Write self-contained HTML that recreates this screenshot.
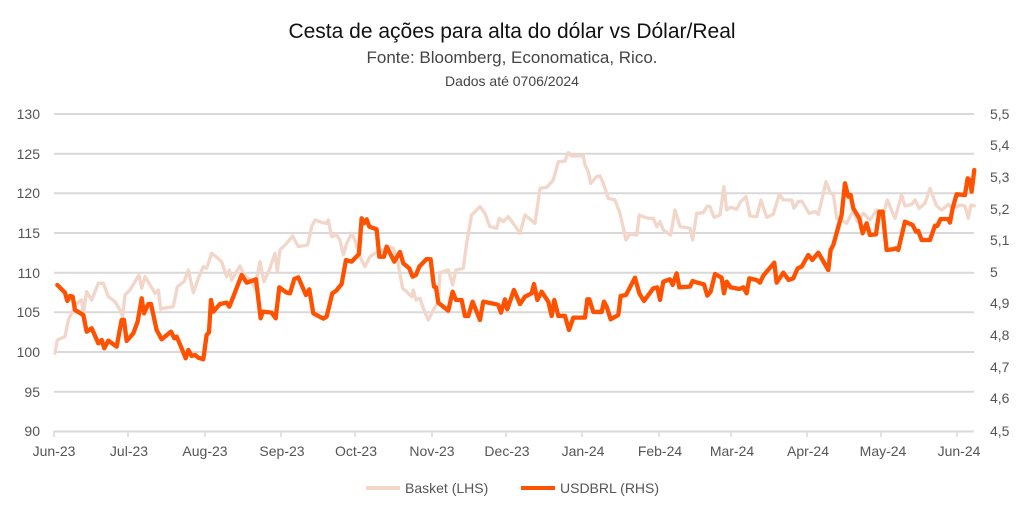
<!DOCTYPE html>
<html><head><meta charset="utf-8"><style>
body{margin:0;background:#fff;}
svg{display:block;font-family:"Liberation Sans",sans-serif;}
</style></head><body>
<svg width="1023" height="514" viewBox="0 0 1023 514">
<text x="512" y="38" text-anchor="middle" font-size="21" fill="#111">Cesta de ações para alta do dólar vs Dólar/Real</text>
<text x="512" y="63" text-anchor="middle" font-size="17" fill="#444">Fonte: Bloomberg, Economatica, Rico.</text>
<text x="512" y="86" text-anchor="middle" font-size="14" fill="#444">Dados até 0706/2024</text>
<g stroke="#d9d9d9" stroke-width="2">
<line x1="54" x2="974" y1="114" y2="114"/><line x1="54" x2="974" y1="153.7" y2="153.7"/>
<line x1="54" x2="974" y1="193.3" y2="193.3"/><line x1="54" x2="974" y1="233" y2="233"/>
<line x1="54" x2="974" y1="272.7" y2="272.7"/><line x1="54" x2="974" y1="312.3" y2="312.3"/>
<line x1="54" x2="974" y1="352" y2="352"/><line x1="54" x2="974" y1="391.7" y2="391.7"/>
<line x1="54" x2="974" y1="431.5" y2="431.5"/>
<g stroke-width="1.5"><line x1="54" x2="54" y1="431" y2="437"/><line x1="128" x2="128" y1="431" y2="437"/><line x1="205" x2="205" y1="431" y2="437"/><line x1="281" x2="281" y1="431" y2="437"/><line x1="355" x2="355" y1="431" y2="437"/><line x1="432" x2="432" y1="431" y2="437"/><line x1="506" x2="506" y1="431" y2="437"/><line x1="582" x2="582" y1="431" y2="437"/><line x1="659" x2="659" y1="431" y2="437"/><line x1="731" x2="731" y1="431" y2="437"/><line x1="807" x2="807" y1="431" y2="437"/><line x1="881" x2="881" y1="431" y2="437"/><line x1="957" x2="957" y1="431" y2="437"/></g>
</g>
<g font-size="14" fill="#555" text-anchor="end">
<text x="40" y="119">130</text><text x="40" y="159">125</text><text x="40" y="198">120</text><text x="40" y="238">115</text><text x="40" y="278">110</text><text x="40" y="317">105</text><text x="40" y="357">100</text><text x="40" y="397">95</text><text x="40" y="436">90</text>
</g>
<g font-size="14" fill="#555">
<text x="990" y="119">5,5</text><text x="990" y="150">5,4</text><text x="990" y="182">5,3</text><text x="990" y="214">5,2</text><text x="990" y="245">5,1</text><text x="990" y="277">5</text><text x="990" y="308">4,9</text><text x="990" y="340">4,8</text><text x="990" y="372">4,7</text><text x="990" y="403">4,6</text><text x="990" y="436">4,5</text>
</g>
<g font-size="14" fill="#555" text-anchor="middle">
<text x="54" y="456">Jun-23</text><text x="129" y="456">Jul-23</text><text x="205" y="456">Aug-23</text><text x="282" y="456">Sep-23</text><text x="356" y="456">Oct-23</text><text x="432" y="456">Nov-23</text><text x="507" y="456">Dec-23</text><text x="583" y="456">Jan-24</text><text x="660" y="456">Feb-24</text><text x="732" y="456">Mar-24</text><text x="808" y="456">Apr-24</text><text x="883" y="456">May-24</text><text x="959" y="456">Jun-24</text>
</g>
<g fill="none" stroke-linejoin="round" stroke-linecap="round">
<g transform="translate(40,100) scale(0.3333)">
<polyline stroke="#f2d6c9" stroke-width="10" points="45,760 52,720 75,710 85,660 95,640 110,610 125,600 130,640 140,575 155,600 175,550 190,550 205,590 225,605 240,630 248,650 255,585 270,570 285,545 297,525 305,565 315,530 345,580 355,570 362,628 370,625 400,620 412,560 432,545 445,510 460,578 475,535 490,500 500,505 515,460 528,470 545,485 560,530 568,510 575,540 600,498 612,525 632,540 645,565 660,485 672,545 688,510 705,460 712,515 720,450 740,430 758,408 775,440 803,435 815,380 825,360 848,368 860,370 865,360 875,410 890,405 900,420 910,465 920,430 935,400 945,420 960,470 975,500 990,470 1005,460 1030,450 1045,440 1060,445 1072,480 1088,565 1100,575 1115,590 1120,570 1128,600 1140,595 1150,625 1165,660 1180,630 1195,605 1200,518 1225,510 1238,555 1248,510 1270,505 1280,430 1295,345 1320,320 1335,340 1350,380 1370,385 1378,355 1390,365 1405,350 1420,370 1440,400"/>
</g>
<g transform="translate(500,100) scale(0.3333)">
<polyline stroke="#f2d6c9" stroke-width="10" points="60,400 75,345 105,370 120,265 140,262 160,240 175,185 195,183 205,158 215,168 250,168 255,195 265,215 272,250 290,230 300,228 310,250 325,295 345,300 360,340 378,420 390,402 410,405 418,345 430,350 445,355 460,355 470,380 480,365 490,390 512,405 525,330 540,380 570,385 578,420 590,340 610,338 622,318 630,320 642,352 660,345 672,260 680,330 692,322 710,328 722,305 738,290 750,348 770,350 783,300 800,352 820,343 838,283 850,300 875,300 882,325 895,305 905,303 928,340 945,335 955,343 968,290 978,245 992,280 1000,280 1010,355 1025,360 1040,370 1060,330 1072,365 1090,340 1110,360 1130,330 1150,345 1162,300 1170,320 1185,355 1205,285 1215,318 1235,313 1245,300 1258,325 1275,310 1290,265 1310,318 1325,330 1345,313 1360,325 1380,315 1395,318 1405,355 1413,315 1423,318"/>
</g>
<g transform="translate(40,100) scale(0.3333)">
<polyline stroke="#ff5200" stroke-width="13" points="52,555 75,578 82,603 90,588 98,590 105,630 130,645 140,695 155,685 175,730 185,720 193,745 205,722 220,733 230,740 245,660 252,660 260,723 280,700 293,665 305,595 312,640 325,612 333,612 350,690 365,718 393,695 403,715 410,710 425,745 437,775 445,750 455,768 465,765 475,773 490,778 500,705 507,697 513,600 520,635 540,612 560,608 568,620 580,590 605,525 620,548 648,538 662,655 668,635 695,638 707,655 718,562 740,578 750,580 763,537 775,532 798,585 808,568 820,640 850,656 860,650 877,580 888,573 905,552 918,480 935,485 957,462 965,355 972,370 980,358 988,380 1010,388 1018,470 1032,470 1040,440 1063,485 1080,456 1090,490 1108,505 1118,530 1128,525 1138,500 1160,477 1172,478 1182,560 1188,562 1195,608 1225,632 1238,575 1248,600 1265,600 1275,648 1285,648 1298,605 1320,660 1330,605 1365,612 1375,615 1383,638 1395,598 1402,628 1422,570 1440,612"/>
</g>
<g transform="translate(500,100) scale(0.3333)">
<polyline stroke="#ff5200" stroke-width="13" points="60,612 75,590 95,580 102,552 112,600 125,575 145,605 155,648 163,600 175,648 195,648 207,690 220,653 255,653 262,598 268,598 280,636 305,636 312,605 320,620 332,658 355,645 362,588 378,585 405,533 418,580 432,603 460,565 472,562 480,600 490,545 510,538 518,555 530,520 538,562 570,560 578,543 592,548 612,553 622,587 632,575 645,522 665,533 672,580 680,545 692,562 718,567 730,562 740,580 748,535 770,540 780,548 790,527 823,488 830,548 850,518 866,540 880,535 893,505 905,500 925,465 937,480 955,458 985,510 992,450 1000,435 1025,345 1035,250 1045,290 1052,285 1060,325 1078,355 1088,400 1100,370 1110,405 1128,403 1138,335 1148,335 1160,450 1178,448 1188,445 1195,450 1215,365 1238,375 1248,395 1255,393 1265,420 1290,420 1305,377 1312,378 1322,357 1345,357 1350,368 1358,325 1370,283 1395,285 1403,235 1410,240 1415,275 1423,210"/>
</g>
</g>
<line x1="366" x2="400" y1="488" y2="488" stroke="#f2d6c9" stroke-width="4"/>
<text x="405" y="493" font-size="14" fill="#555">Basket (LHS)</text>
<line x1="521" x2="555" y1="488" y2="488" stroke="#ff5200" stroke-width="4"/>
<text x="560" y="493" font-size="14" fill="#555">USDBRL (RHS)</text>
</svg>
</body></html>
